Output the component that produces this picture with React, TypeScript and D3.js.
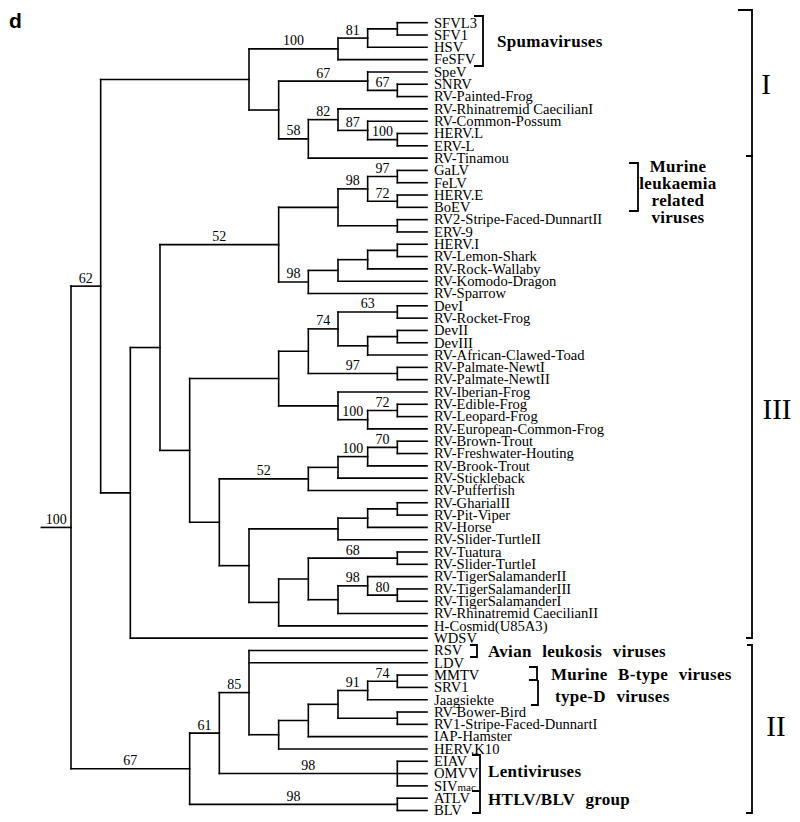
import React from "react";
import * as d3 from "d3";

type TNode = { name?: string; s?: string; c?: TNode[] };
const n = (s: string, ...c: (TNode | string)[]): TNode => ({
  s,
  c: c.map((k) => (typeof k === "string" ? { name: k } : k)),
});

// ---- tree topology with bootstrap support values ----
const cladeI = n("",
  n("100", n("81", n("", "SFVL3", "SFV1"), "HSV"), "FeSFV"),
  n("",
    n("67", "SpeV", n("67", "SNRV", "RV-Painted-Frog")),
    n("58", n("82", "RV-Rhinatremid CaecilianI", n("87", "RV-Common-Possum", n("100", "HERV.L", "ERV-L"))), "RV-Tinamou")));

const cladeIII = n("",
  n("",
    n("52",
      n("", n("98", n("97", "GaLV", "FeLV"), n("72", "HERV.E", "BoEV")), n("", "RV2-Stripe-Faced-DunnartII", "ERV-9")),
      n("98", n("", n("", n("", "HERV.I", "RV-Lemon-Shark"), "RV-Rock-Wallaby"), "RV-Komodo-Dragon"), "RV-Sparrow")),
    n("",
      n("",
        n("",
          n("74", n("63", "DevI", "RV-Rocket-Frog"), n("", n("", "DevII", "DevIII"), "RV-African-Clawed-Toad")),
          n("97", "RV-Palmate-NewtI", "RV-Palmate-NewtII")),
        n("", "RV-Iberian-Frog", n("100", n("72", "RV-Edible-Frog", "RV-Leopard-Frog"), "RV-European-Common-Frog"))),
      n("",
        n("52", n("", n("100", n("70", "RV-Brown-Trout", "RV-Freshwater-Houting"), "RV-Brook-Trout"), "RV-Stickleback"), "RV-Pufferfish"),
        n("",
          n("", n("", n("", "RV-GharialII", "RV-Pit-Viper"), "RV-Horse"), "RV-Slider-TurtleII"),
          n("",
            n("",
              n("68", "RV-Tuatura", "RV-Slider-TurtleI"),
              n("", n("98", "RV-TigerSalamanderII", n("80", "RV-TigerSalamanderIII", "RV-TigerSalamanderI")), "RV-Rhinatremid CaecilianII")),
            "H-Cosmid(U85A3)"))))),
  "WDSV");

const cladeII = n("67",
  n("61",
    n("85", "RSV", "LDV",
      n("", n("", n("", n("91", n("74", "MMTV", "SRV1"), "Jaagsiekte"), n("", "RV-Bower-Bird", "RV1-Stripe-Faced-DunnartI")), "IAP-Hamster"), "HERV.K10")),
    n("98", "EIAV", "OMVV", "SIVmac")),
  n("98", "ATLV", "BLV"));

const treeData = n("100", n("62", cladeI, cladeIII), cladeII);

// ---- annotations ----
const groupNames = ["Spumaviruses", "Murine|leukaemia|related|viruses", "Avian leukosis viruses", "Murine B-type viruses", "type-D viruses", "Lentiviruses", "HTLV/BLV group"];
const groupTextX = [497, 678, 488, 551, 555, 488, 488];
const groupTextY = [47, 172, 657, 680, 702, 777, 805];
const groupAnchor = ["start", "middle", "start", "start", "start", "start", "start"];
// small brackets: x, top, bottom, top tick, bottom tick
const smallBrackets = [
  [483, 16, 66, 9, 9],
  [638, 163, 211, 9, 9],
  [477, 645, 657, 7, 7],
  [537, 667, 680, 8, 8],
  [538, 680, 705, 0, 7],
  [480, 755, 791, 8, 0],
  [480, 791, 813, 8, 8],
];
const classNames = ["I", "III", "II"];
const classTop = [10, 156, 645];
const classBottom = [156, 638, 813];
const classLabelY = [94, 419, 736];
const classLabelX = [766, 777, 776];

const W = 800, H = 822;
const maxLevel = 12;

export default function App() {
  const root = d3.hierarchy<TNode>(treeData, (d) => d.c);
  const leafList = root.leaves();
  const nLeaves = leafList.length;
  const y = d3.scaleLinear().domain([0, nLeaves - 1]).range([22.7, 810.5]);
  const x = d3.scaleLinear().domain([0, maxLevel]).range([71, 427]);
  const pos = new Map<any, { x: number; y: number }>();
  leafList.forEach((l, i) => pos.set(l, { x: x(maxLevel), y: y(i) }));
  root.eachAfter((nd) => {
    if (nd.children) {
      const f = pos.get(nd.children[0])!;
      const l = pos.get(nd.children[nd.children.length - 1])!;
      pos.set(nd, { x: x(maxLevel - nd.height), y: (f.y + l.y) / 2 });
    }
  });

  const lines: JSX.Element[] = [];
  const texts: JSX.Element[] = [];
  let k = 0;
  root.each((nd) => {
    const p = pos.get(nd)!;
    const px = nd.parent ? pos.get(nd.parent)!.x : x(-1);
    lines.push(<line key={k++} x1={px} x2={p.x} y1={p.y} y2={p.y} />);
    if (nd.children) {
      const f = pos.get(nd.children[0])!;
      const l = pos.get(nd.children[nd.children.length - 1])!;
      lines.push(<line key={k++} x1={p.x} x2={p.x} y1={f.y} y2={l.y} />);
    }
    if (nd.data.s) {
      texts.push(
        <text key={k++} x={(px + p.x) / 2} y={p.y - 3.5} textAnchor="middle" fontSize={14}>
          {nd.data.s}
        </text>
      );
    }
  });

  return (
    <svg width={W} height={H} style={{ position: "absolute", left: 0, top: 0, background: "#fff" }}
      fontFamily="'Liberation Serif', 'Times New Roman', serif">
      <rect width={W} height={H} fill="#fff" />
      <text x={9} y={28} fontFamily="'Liberation Sans', Arial, sans-serif" fontWeight="bold" fontSize={21}>d</text>
      <g stroke="#000" strokeWidth={1.6} strokeLinecap="square">{lines}</g>
      <g fill="#000">{texts}</g>
      <g fill="#000" fontSize={14.6}>
        {leafList.map((l, i) => {
          const p = pos.get(l)!;
          const nm = l.data.name!;
          return (
            <text key={i} x={p.x + 7} y={p.y + 4.8}>
              {nm === "SIVmac" ? (<>SIV<tspan fontSize={11}>mac</tspan></>) : nm}
            </text>
          );
        })}
      </g>
      <g stroke="#000" strokeWidth={1.8} fill="none">
        {smallBrackets.map((b, i) => (
          <path key={i} d={`M${b[0] - b[3]},${b[1]}H${b[0]}V${b[2]}H${b[0] - b[4]}`} />
        ))}
        {classNames.map((c, i) => (
          <path key={c} d={`M${752 - (i === 0 ? 14 : 5)},${classTop[i]}H752V${classBottom[i]}H${752 - 6}`} />
        ))}
      </g>
      <g fill="#000" fontWeight="bold" fontSize={17} letterSpacing={0.3} style={{ wordSpacing: "6px" }}>
        {groupNames.map((g, i) =>
          g.split("|").map((t, j) => (
            <text key={`${i}-${j}`} x={groupTextX[i]} y={groupTextY[i] + j * 17} textAnchor={groupAnchor[i]}>{t}</text>
          ))
        )}
      </g>
      <g fill="#000" fontSize={29}>
        {classNames.map((c, i) => (
          <text key={c} x={classLabelX[i]} y={classLabelY[i]} textAnchor="middle">{c}</text>
        ))}
      </g>
    </svg>
  );
}
